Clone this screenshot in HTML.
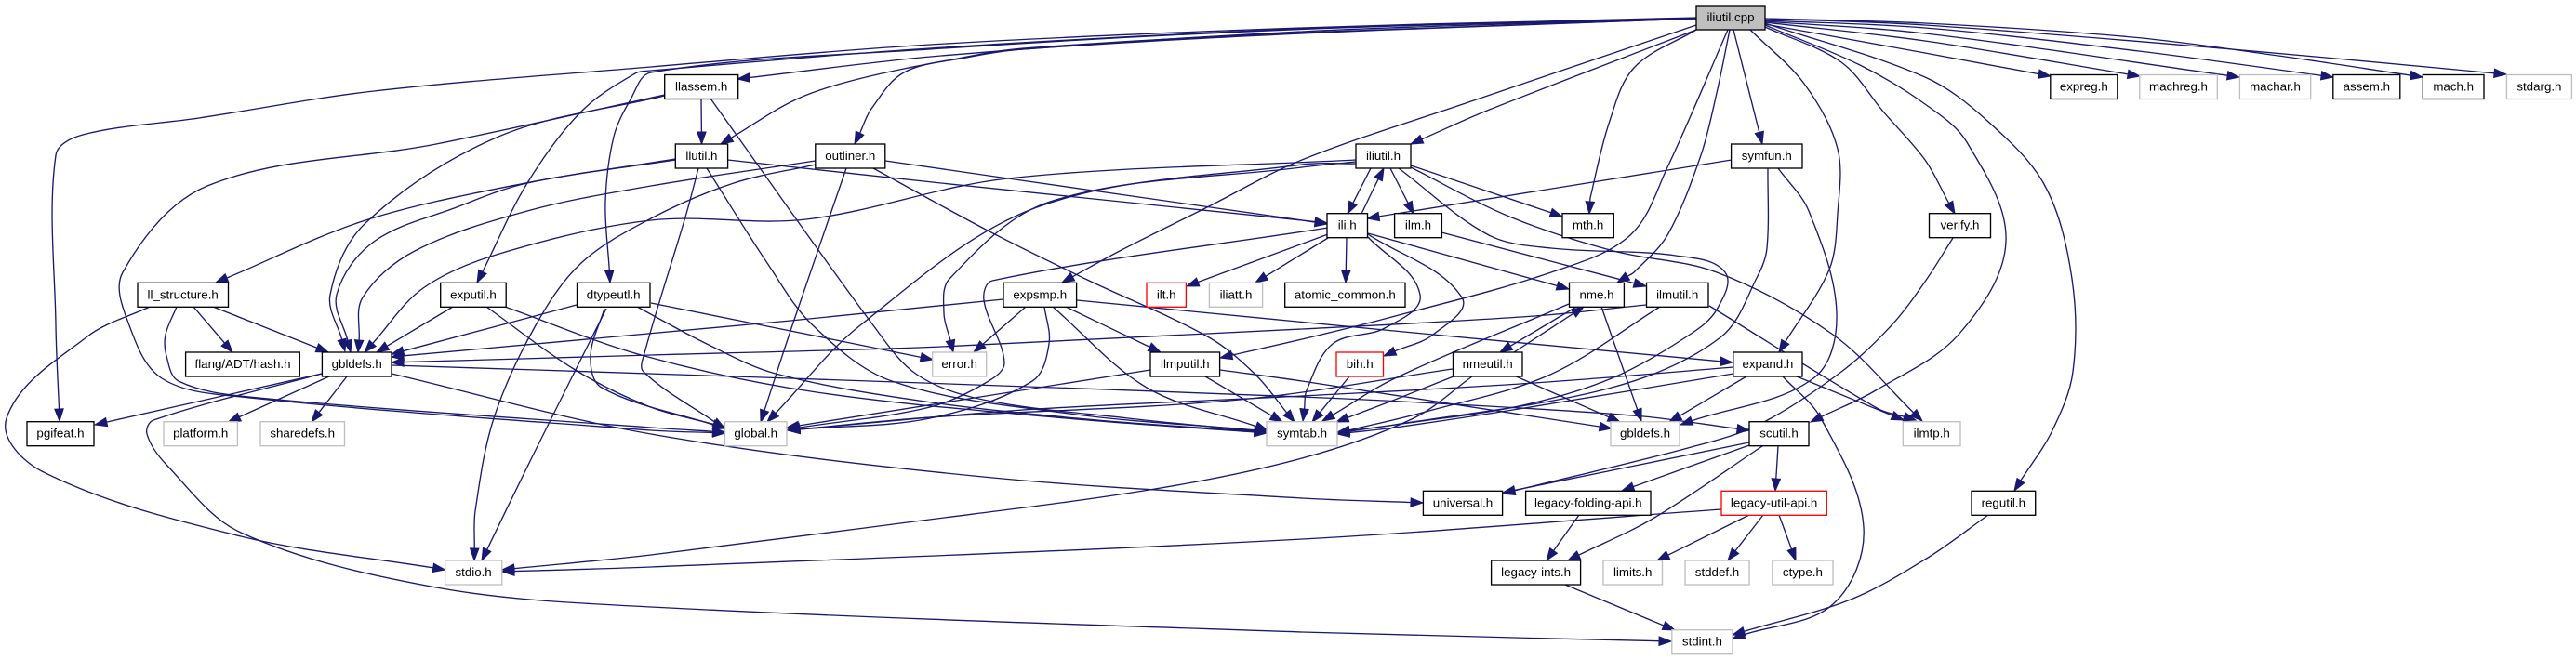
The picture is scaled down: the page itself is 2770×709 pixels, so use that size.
<!DOCTYPE html>
<html lang="en">
<head>
<meta charset="utf-8">
<title>iliutil.cpp include dependency graph</title>
<style>
html,body{margin:0;padding:0;background:#fff;width:2770px;height:709px;overflow:hidden}
svg{display:block}
.n rect{fill:#fff;stroke:#000;stroke-width:1.33}
.g rect{stroke:#bfbfbf}
.r rect{stroke:#ff0000}
.root rect{fill:#bfbfbf}
text{font-family:"Liberation Sans",sans-serif;font-size:13.33px;text-anchor:middle;fill:#000}
</style>
</head>
<body>
<svg id="graph" xmlns="http://www.w3.org/2000/svg" width="2770" height="709" viewBox="0 0 2770 709">
<g id="edges"></g>
<g>
<g class="n root"><rect x="1824" y="6" width="74" height="26"/><text x="1861" y="23">iliutil.cpp</text></g>
<g class="n"><rect x="714.7" y="80.5" width="79" height="26"/><text x="754.2" y="97.5">llassem.h</text></g>
<g class="n"><rect x="2204.8" y="80.5" width="72" height="26"/><text x="2240.8" y="97.5">expreg.h</text></g>
<g class="n g"><rect x="2300.8" y="80.5" width="83.5" height="26"/><text x="2342.5" y="97.5">machreg.h</text></g>
<g class="n g"><rect x="2408.4" y="80.5" width="76.3" height="26"/><text x="2446.5" y="97.5">machar.h</text></g>
<g class="n"><rect x="2508.8" y="80.5" width="72" height="26"/><text x="2544.8" y="97.5">assem.h</text></g>
<g class="n"><rect x="2605.3" y="80.5" width="65.7" height="26"/><text x="2638.2" y="97.5">mach.h</text></g>
<g class="n g"><rect x="2695.4" y="80.5" width="70" height="26"/><text x="2730.4" y="97.5">stdarg.h</text></g>
<g class="n"><rect x="726.3" y="155" width="56.3" height="26"/><text x="754.4" y="172">llutil.h</text></g>
<g class="n"><rect x="876.8" y="155" width="75" height="26"/><text x="914.3" y="172">outliner.h</text></g>
<g class="n"><rect x="1458" y="155" width="59" height="26"/><text x="1487.5" y="172">iliutil.h</text></g>
<g class="n"><rect x="1861.6" y="155" width="76.4" height="26"/><text x="1899.8" y="172">symfun.h</text></g>
<g class="n"><rect x="1427" y="229.7" width="43.5" height="26"/><text x="1448.7" y="246.7">ili.h</text></g>
<g class="n"><rect x="1499.6" y="229.7" width="50.8" height="26"/><text x="1525" y="246.7">ilm.h</text></g>
<g class="n"><rect x="1680" y="229.7" width="55.3" height="26"/><text x="1707.6" y="246.7">mth.h</text></g>
<g class="n"><rect x="2074.5" y="229.7" width="66" height="26"/><text x="2107.5" y="246.7">verify.h</text></g>
<g class="n"><rect x="148" y="304.3" width="97.5" height="26"/><text x="196.7" y="321.3">ll_structure.h</text></g>
<g class="n"><rect x="473.7" y="304.3" width="70.5" height="26"/><text x="509" y="321.3">exputil.h</text></g>
<g class="n"><rect x="620.5" y="304.3" width="78.5" height="26"/><text x="659.7" y="321.3">dtypeutl.h</text></g>
<g class="n"><rect x="1079" y="304.3" width="78.6" height="26"/><text x="1118.3" y="321.3">expsmp.h</text></g>
<g class="n r"><rect x="1233" y="304.3" width="42.4" height="26"/><text x="1254.2" y="321.3">ilt.h</text></g>
<g class="n g"><rect x="1300.4" y="304.3" width="57.2" height="26"/><text x="1329" y="321.3">iliatt.h</text></g>
<g class="n"><rect x="1381.7" y="304.3" width="129.3" height="26"/><text x="1446.3" y="321.3">atomic_common.h</text></g>
<g class="n"><rect x="1687.5" y="304.3" width="58.9" height="26"/><text x="1717" y="321.3">nme.h</text></g>
<g class="n"><rect x="1770.5" y="304.3" width="66.5" height="26"/><text x="1803.7" y="321.3">ilmutil.h</text></g>
<g class="n"><rect x="199.6" y="379" width="122.7" height="26"/><text x="261" y="396">flang/ADT/hash.h</text></g>
<g class="n"><rect x="346.4" y="379" width="74.6" height="26"/><text x="383.7" y="396">gbldefs.h</text></g>
<g class="n g"><rect x="1002.7" y="379" width="58" height="26"/><text x="1031.7" y="396">error.h</text></g>
<g class="n"><rect x="1237" y="379" width="74.6" height="26"/><text x="1274.3" y="396">llmputil.h</text></g>
<g class="n r"><rect x="1437" y="379" width="50.5" height="26"/><text x="1462.2" y="396">bih.h</text></g>
<g class="n"><rect x="1562.5" y="379" width="74.5" height="26"/><text x="1599.7" y="396">nmeutil.h</text></g>
<g class="n"><rect x="1863.8" y="379" width="74.2" height="26"/><text x="1900.9" y="396">expand.h</text></g>
<g class="n"><rect x="29" y="453.7" width="72" height="26"/><text x="65" y="470.7">pgifeat.h</text></g>
<g class="n g"><rect x="176" y="453.7" width="79.4" height="26"/><text x="215.7" y="470.7">platform.h</text></g>
<g class="n g"><rect x="280" y="453.7" width="90.5" height="26"/><text x="325.2" y="470.7">sharedefs.h</text></g>
<g class="n g"><rect x="779.5" y="453.7" width="66.5" height="26"/><text x="812.7" y="470.7">global.h</text></g>
<g class="n g"><rect x="1362" y="453.7" width="76" height="26"/><text x="1400" y="470.7">symtab.h</text></g>
<g class="n g"><rect x="1732" y="453.7" width="74" height="26"/><text x="1769" y="470.7">gbldefs.h</text></g>
<g class="n"><rect x="1881" y="453.7" width="64" height="26"/><text x="1913" y="470.7">scutil.h</text></g>
<g class="n g"><rect x="2046.3" y="453.7" width="61.7" height="26"/><text x="2077.2" y="470.7">ilmtp.h</text></g>
<g class="n"><rect x="1530.4" y="528.3" width="85.2" height="26"/><text x="1573" y="545.3">universal.h</text></g>
<g class="n"><rect x="1640.6" y="528.3" width="134.4" height="26"/><text x="1707.8" y="545.3">legacy-folding-api.h</text></g>
<g class="n r"><rect x="1851" y="528.3" width="113.3" height="26"/><text x="1907.6" y="545.3">legacy-util-api.h</text></g>
<g class="n"><rect x="2120" y="528.3" width="68.7" height="26"/><text x="2154.3" y="545.3">regutil.h</text></g>
<g class="n g"><rect x="478.6" y="603" width="61.1" height="26"/><text x="509.1" y="620">stdio.h</text></g>
<g class="n"><rect x="1603.6" y="603" width="96" height="26"/><text x="1651.6" y="620">legacy-ints.h</text></g>
<g class="n g"><rect x="1724" y="603" width="63.5" height="26"/><text x="1755.7" y="620">limits.h</text></g>
<g class="n g"><rect x="1812" y="603" width="69" height="26"/><text x="1846.5" y="620">stddef.h</text></g>
<g class="n g"><rect x="1905.8" y="603" width="65.2" height="26"/><text x="1938.4" y="620">ctype.h</text></g>
<g class="n g"><rect x="1797.8" y="677.7" width="65.2" height="26"/><text x="1830.4" y="694.7">stdint.h</text></g>
</g>
</svg>
<script>
// Each edge: name, then waypoints x,y,... (last waypoint is the arrow tip).
const edgeRoutes = [
["iliutil-cpp-pgifeat",1824,19,1400,30,1000,48,700,72,402,98,214,127,89,145,60,167,60,350,64,453],
["iliutil-cpp-exputil",1824,19.5,1400,31,1000,52,700,76,683,79,625,120,567,197,513,304],
["iliutil-cpp-dtypeutl",1824,20,1400,31.5,1000,53,700,78,678,107,660,147,651,217,656,304],
["iliutil-cpp-llassem",1824,20,1400,34,1012,60,793,85],
["iliutil-cpp-llutil",1824,20,1400,35,1100,52,1035,62,923,85,856,107,775,155],
["iliutil-cpp-outliner",1824,20,1400,36,1100,53,1039,62,972,78,937,117,919,155],
["iliutil-cpp-expsmp",1824,27,1579,110,1400,172,1298,223,1204,270,1142,304],
["iliutil-cpp-iliutil",1824,32,1599,119,1517,155],
["iliutil-cpp-mth",1824,32,1757,73,1730,133,1710,213,1709,230],
["iliutil-cpp-llmputil",1858,32,1793,180,1753,253,1668,293,1489,343,1400,365,1312,385],
["iliutil-cpp-nme",1860,32,1846,100,1829,167,1793,253,1757,293,1739,304],
["iliutil-cpp-symfun",1864,32,1895,155],
["iliutil-cpp-expand",1882,32,1940,90,1976,160,1976,230,1967,290,1913,379],
["iliutil-cpp-verify",1898,29,1980,67,2025,120,2070,172,2102,230],
["iliutil-cpp-scutil",1898,27,2000,70,2070,112,2115,153,2157,260,2106,360,2017,420,1947,454],
["iliutil-cpp-regutil",1898,25,2070,83,2137,130,2199,200,2228,300,2229,400,2207,463,2166,528],
["iliutil-cpp-expreg",1898,26,2070,57,2205,82],
["iliutil-cpp-machreg",1898,24,2070,44,2301,82],
["iliutil-cpp-machar",1898,23,2070,36,2408,83],
["iliutil-cpp-assem",1898,22,2070,30,2300,55,2509,83],
["iliutil-cpp-mach",1898,20,2070,25,2293,40,2450,60,2605,83],
["iliutil-cpp-stdarg",1898,20,2070,27,2400,53,2695,80],
["llassem-llutil",754,106,754.5,155],
["llassem-symtab",764,106,939,350,986,403,1057,430,1213,450,1362,465],
["llassem-gbldefs",714.7,103,536,147,393,240,355,317,371,378],
["llassem-global",714.7,102,469,155,223,200,132,293,139,350,174,407,259,427,700,463,779.5,466],
["ll-structure-stdio",161,330,94,362,7,450,45,507,259,577,478.6,613],
["ll-structure-hash",208,330,250,379],
["ll-structure-gbldefs",229,330,353,379],
["ll-structure-global",190,330,178,360,179,383,192,410,268,427,700,460,779.5,465],
["llutil-ll-structure",726.3,171,565,197,393,237,232,304],
["llutil-gbldefs",726.3,172,567,197,491,223,402,260,362,317,377,379],
["llutil-ili",782.6,172,1012,197,1400,237,1427,240],
["llutil-global",751,181,738,230,693,380,692,400,773,457,779.5,461],
["llutil-symtab",760,181,825,283,874,350,959,410,1150,445,1362,464],
["outliner-ili",952,173,1084,192,1400,237,1427,241],
["outliner-gbldefs",877,173,700,200,567,227,446,270,390,320,385,379],
["outliner-stdio",877,177,789,197,700,235,625,283,576,350,531,450,511,550,510,603],
["outliner-global",910,181,852,350,818,454],
["outliner-symtab",939,181,1062,248,1167,300,1300,363,1350,403,1392,454],
["exputil-gbldefs",487,330,405,379],
["exputil-global",523,330,617,397,697,437,780,460],
["exputil-symtab",543,330,693,383,878,422,1146,450,1362,466],
["dtypeutl-gbldefs",620,328,421,381],
["dtypeutl-error",700,326,820,350,1003,387],
["dtypeutl-stdio",652,332,573,490,518,603],
["dtypeutl-global",650,332,635,383,647,417,767,457,780,461],
["dtypeutl-symtab",685,330,760,370,834,402,995,432,1180,452,1362,465],
["gbldefs-pgifeat",346,402,102,457],
["gbldefs-stdint",346,402,165,452,158,467,179,500,259,573,469,632,700,653,1400,680,1797,690],
["gbldefs-platform",354,405,245.5,454],
["gbldefs-sharedefs",373,405,335,454],
["gbldefs-universal",421,402,700,467,1057,513,1400,536,1530,541],
["gbldefs-scutil",421,393,850,407,1400,427,1600,437,1767,448,1881,463],
["expsmp-gbldefs",1079,322,850,345,421,384],
["expsmp-error",1103,330,1047,379],
["expsmp-global",1123,330,1128,370,1110,410,1000,450,847,463],
["expsmp-symtab",1132,330,1233,417,1363,463],
["expsmp-llmputil",1146,330,1248,379],
["expsmp-expand",1158,323,1520,358,1863,390],
["iliutil-gbldefs",1458,172,1084,192,867,236,700,237,537,273,455,310,392,379],
["iliutil-error",1458,174,1400,180,1129,217,1021,300,1015,337,1025,379],
["iliutil-global",1458,176,1400,177,1115,223,925,350,825,454],
["iliutil-ili",1474,181,1449,230],
["iliutil-ilm",1495,181,1520,230],
["iliutil-mth",1517,178,1680,233],
["iliutil-symtab",1504,181,1601,253,1668,267,1802,275,1855,293,1846,333,1817,360,1733,407,1633,437,1500,457,1438,466],
["iliutil-ilmtp",1517,180,1623,233,1735,270,1846,293,1971,360,2067,453],
["ili-iliutil",1464,230,1476,205,1488,181],
["ili-global",1428,245,1067,302,1058,323,1080,390,1063,410,1000,438,847,462],
["ili-ilt",1428,252,1276,308],
["ili-iliatt",1428,256,1350,304],
["ili-atomic-common",1448,255,1447,304],
["ili-symtab",1471,255,1527,317,1489,353,1433,370,1405,420,1401,453],
["ili-bih",1471,252,1572,320,1541,360,1488,383],
["ili-nme",1471,251,1687,311],
["ilm-ilmutil",1550,250,1770,308],
["symfun-ili",1862,172,1470,235],
["symfun-symtab",1901,181,1900,267,1890,297,1850,363,1733,417,1500,457,1438,465],
["symfun-gbldefs",1912,181,1945,227,1975,337,1950,407,1807,457],
["nme-gbldefs",1722,330,1765,453],
["nme-nmeutil",1695,330,1613,379],
["nme-symtab",1687,327,1500,407,1422,453],
["nmeutil-nme",1628,379,1703,330],
["nmeutil-gbldefs",1628,404,1742,454],
["nmeutil-global",1562,397,1333,430,1000,449,847,463],
["nmeutil-symtab",1563,405,1500,430,1437,454],
["nmeutil-stdio",1583,405,1520,450,1400,493,1236,527,968,563,700,597,540,613],
["ilmutil-gbldefs",1770,328,1650,340,1400,354,1012,373,700,382,421,390],
["ilmutil-symtab",1785,330,1667,403,1533,443,1438,466],
["ilmutil-ilmtp",1838,329,2020,440,2060,452],
["llmputil-global",1237,398,846,460],
["llmputil-symtab",1296,405,1379,454],
["llmputil-gbldefs",1312,398,1400,410,1733,461],
["expand-global",1864,395,1650,412,1400,426,1100,441,847,463],
["expand-symtab",1864,402,1633,440,1500,460,1438,467],
["expand-gbldefs",1878,405,1795,454],
["expand-stdint",1917,405,1958,450,2004,567,1971,650,1863,687],
["expand-ilmtp",1932,405,2047,452],
["bih-symtab",1451,405,1411,454],
["scutil-universal",1881,476,1616,530],
["scutil-folding",1881,479,1744,528],
["scutil-ints",1895,480,1779,557,1686,603],
["scutil-util",1912,480,1909,528],
["verify-universal",2100,256,2070,303,2034,350,1980,400,1891,457,1815,482,1616,531],
["folding-ints",1698,554,1663,603],
["util-stdio",1851,548,1400,580,700,610,540,615],
["util-limits",1881,554,1782,603],
["util-stddef",1896,554,1858,603],
["util-ctype",1913,554,1931,603],
["ints-stdint",1683,629,1801,678],
["regutil-stdint",2138,554,2073,600,1990,645,1863,683]
];
const edgeColor = "#191970";
const svgNS = "http://www.w3.org/2000/svg";
const edgesGroup = document.getElementById("edges");
function edgePath(pts){
  const n = pts.length;
  const tan = pts.map((p,i)=>{
    const a = pts[Math.max(i-1,0)], b = pts[Math.min(i+1,n-1)];
    const dx = b[0]-a[0], dy = b[1]-a[1], l = Math.hypot(dx,dy)||1;
    return [dx/l,dy/l];
  });
  let d = "M"+pts[0][0]+","+pts[0][1];
  for(let i=0;i<n-1;i++){
    const p=pts[i], q=pts[i+1], s=Math.hypot(q[0]-p[0],q[1]-p[1])/3;
    d += "C"+(p[0]+tan[i][0]*s).toFixed(1)+","+(p[1]+tan[i][1]*s).toFixed(1)+" "+
         (q[0]-tan[i+1][0]*s).toFixed(1)+","+(q[1]-tan[i+1][1]*s).toFixed(1)+" "+
         q[0].toFixed(1)+","+q[1].toFixed(1);
  }
  return d;
}
edgeRoutes.forEach(route=>{
  const name = route[0], pts = [];
  for(let i=1;i<route.length;i+=2) pts.push([route[i],route[i+1]]);
  const tip = pts[pts.length-1], prev = pts[pts.length-2];
  let dx = tip[0]-prev[0], dy = tip[1]-prev[1];
  const l = Math.hypot(dx,dy)||1; dx/=l; dy/=l;
  const base = [tip[0]-dx*13, tip[1]-dy*13];
  const line = pts.slice(0,-1).concat([base]);
  const path = document.createElementNS(svgNS,"path");
  path.setAttribute("d",edgePath(line));
  path.setAttribute("fill","none");
  path.setAttribute("stroke",edgeColor);
  path.setAttribute("stroke-width","1.33");
  
  
  edgesGroup.appendChild(path);
  const head = document.createElementNS(svgNS,"polygon");
  const w = 4.7;
  head.setAttribute("points",
    tip[0]+","+tip[1]+" "+
    (base[0]-dy*w).toFixed(1)+","+(base[1]+dx*w).toFixed(1)+" "+
    (base[0]+dy*w).toFixed(1)+","+(base[1]-dx*w).toFixed(1));
  head.setAttribute("fill",edgeColor);
  head.setAttribute("stroke",edgeColor);
  
  
  edgesGroup.appendChild(head);
});
</script>
</body>
</html>
